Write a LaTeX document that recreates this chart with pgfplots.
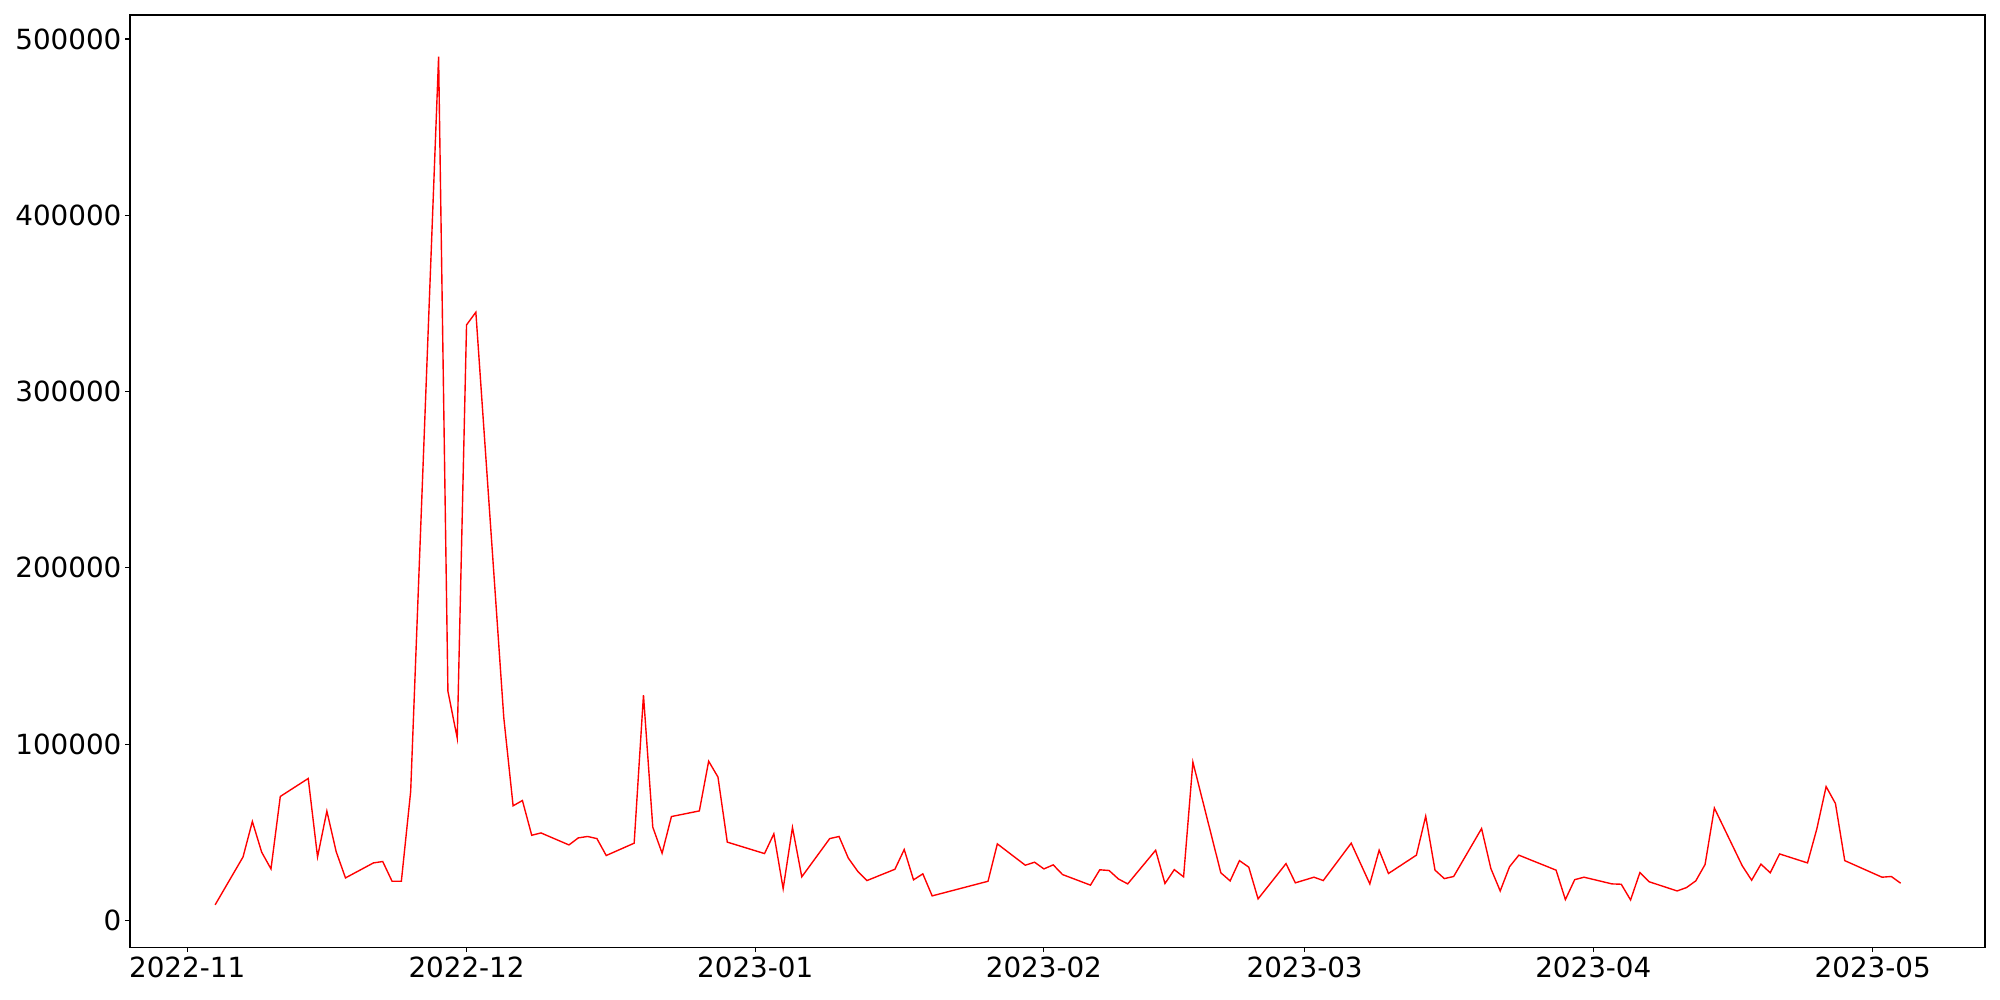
\documentclass[border=0pt]{standalone}
\usepackage{fontspec}
\setmainfont{DejaVu Sans}
\usepackage{pgfplots}
\pgfplotsset{compat=1.18}
\begin{document}
\begin{tikzpicture}
\path[use as bounding box] (0,0) rectangle (1440bp,720bp);
\begin{axis}[
  at={(93.6bp,37.9bp)}, anchor=south west,
  width=1335.6bp, height=671.3bp, scale only axis,
  xmin=-6.14, xmax=193.06, ymin=-15300, ymax=513600,
  xtick={0,30,61,92,120,151,181},
  xticklabels={2022-11,2022-12,2023-01,2023-02,2023-03,2023-04,2023-05},
  ytick={0,100000,200000,300000,400000,500000},
  yticklabels={0,100000,200000,300000,400000,500000},
  tick align=outside, xtick pos=left, ytick pos=left,
  major tick length=3.5bp,
  tick style={black, line width=0.8bp},
  axis line style={line width=0.8bp},
  tick label style={font=\fontsize{20bp}{24bp}\selectfont},
  yticklabel style={inner sep=2.5bp},
  xticklabel style={inner sep=3bp},
]
\addplot[red, line width=1bp, mark=none] table {
x y
3 8800
6 36000
7 56100
8 38700
9 29200
10 70300
13 80500
14 36000
15 62000
16 39000
17 24100
20 32600
21 33400
22 22200
23 22200
24 73100
27 490000
28 130000
29 103400
30 337800
31 345000
34 115000
35 65000
36 68000
37 48300
38 49600
41 42800
42 46800
43 47600
44 46400
45 36800
48 43800
49 127800
50 52900
51 38100
52 58900
55 62100
56 90300
57 81300
58 44400
62 37900
63 49100
64 18000
65 52700
66 24700
69 46400
70 47600
71 35300
72 27900
73 22600
76 29000
77 40200
78 23000
79 26400
80 13900
86 22200
87 43400
90 31300
91 33000
92 29200
93 31500
94 26000
97 20000
98 28700
99 28300
100 23500
101 20700
104 39800
105 20900
106 28800
107 24700
108 89800
111 27000
112 22400
113 33900
114 30200
115 12200
118 32200
119 21300
121 24500
122 22600
125 43800
127 20700
128 39800
129 26600
132 37000
133 59100
134 28500
135 23700
136 24900
139 52100
140 29400
141 16700
142 30400
143 37000
147 28500
148 11800
149 23100
150 24500
153 20700
154 20500
155 11600
156 27100
157 21900
160 16700
161 18600
162 22400
163 31700
164 63700
167 30900
168 22800
169 31900
170 27000
171 37700
174 32600
175 51900
176 75900
177 66300
178 33900
182 24500
183 24900
184 21100
};
\end{axis}
\end{tikzpicture}
\end{document}
